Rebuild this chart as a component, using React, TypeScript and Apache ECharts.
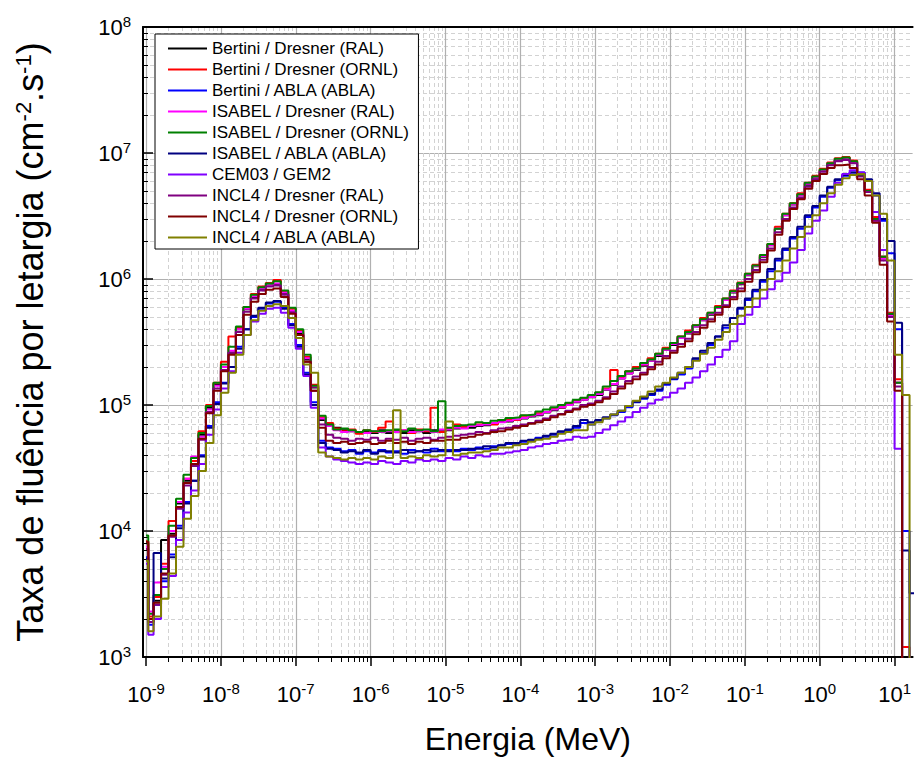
import React, { useEffect, useRef } from 'react';
import * as echarts from 'echarts';

const FONT = '"Liberation Sans", Arial, Helvetica, sans-serif';

// ---- Bin edges (MeV): a narrow first bin, then 10 logarithmic bins per decade ----
const FIRST_EDGES = [1e-9, 1.07e-9];
const EDGE_MANTISSAS = [1, 1.259, 1.585, 1.995, 2.512, 3.162, 3.981, 5.012, 6.31, 7.943];
const FULL_DECADES = [-8, -7, -6, -5, -4, -3, -2, -1, 0];
const LAST_EDGES = [10, 12.59, 15.85, 19.95];

// ---- Axis ticks ----
const X_MAJOR_TICKS = [1e-9, 1e-8, 1e-7, 1e-6, 1e-5, 1e-4, 1e-3, 1e-2, 1e-1, 1, 10];
const Y_MAJOR_TICKS = [1e3, 1e4, 1e5, 1e6, 1e7, 1e8];
const MINOR_MULTIPLIERS = [2, 3, 4, 5, 6, 7, 8, 9];
const X_MIN = 9.1e-10;
const X_MAX = 17.4;
const Y_MIN = 1e3;
const Y_MAX = 1e8;

// ---- Series (flux per lethargy, cm^-2 s^-1), one value per bin; 100 = no flux (below axis) ----
const SERIES_NAMES = [
  'Bertini / Dresner (RAL)',
  'Bertini / Dresner (ORNL)',
  'Bertini / ABLA (ABLA)',
  'ISABEL / Dresner (RAL)',
  'ISABEL / Dresner (ORNL)',
  'ISABEL / ABLA (ABLA)',
  'CEM03 / GEM2',
  'INCL4 / Dresner (RAL)',
  'INCL4 / Dresner (ORNL)',
  'INCL4 / ABLA (ABLA)',
];
const SERIES_COLORS = ['#000000', '#ff0000', '#0000ff', '#ff00ff', '#008000', '#000080', '#8000ff', '#800080', '#800000', '#808000'];

const BERTINI_DRESNER_RAL = [
  8.0e3, 2.0e3, 2.8e3, 8.5e3, 9.5e3, 1.65e4, 2.5e4, 3.3e4, 5.8e4, 9.5e4,
  1.45e5, 2.0e5, 2.6e5, 4.0e5, 5.75e5, 7.2e5, 8.3e5, 8.9e5, 9.1e5, 7.6e5,
  5.5e5, 3.7e5, 2.3e5, 1.38e5, 7.6e4, 6.9e4, 6.6e4, 6.3e4, 6.2e4, 6.0e4,
  6.2e4, 6.0e4, 6.3e4, 6.0e4, 6.2e4, 6.0e4, 6.3e4, 6.2e4, 6.0e4, 6.3e4,
  6.2e4, 6.3e4, 6.5e4, 6.6e4, 6.6e4, 6.8e4, 6.9e4, 7.1e4, 7.4e4, 7.4e4,
  7.6e4, 7.8e4, 8.1e4, 8.3e4, 8.7e4, 9.1e4, 9.5e4, 1.0e5, 1.05e5, 1.1e5,
  1.15e5, 1.2e5, 1.32e5, 1.45e5, 1.62e5, 1.78e5, 1.9e5, 2.05e5, 2.25e5, 2.45e5,
  2.75e5, 3.0e5, 3.4e5, 3.7e5, 4.2e5, 4.7e5, 5.2e5, 5.9e5, 6.8e5, 7.8e5,
  9.1e5, 1.07e6, 1.26e6, 1.5e6, 1.85e6, 2.5e6, 3.2e6, 3.9e6, 4.6e6, 5.6e6,
  6.4e6, 7.3e6, 8.1e6, 8.8e6, 9.1e6, 8.5e6, 6.6e6, 5.0e6, 3.0e6, 1.5e6,
  5.2e5, 1.5e5, 100, 100,
];
const BERTINI_DRESNER_ORNL = [
  8.3e3, 2.1e3, 3.0e3, 5.5e3, 1.2e4, 1.7e4, 2.6e4, 3.6e4, 6.2e4, 1.0e5,
  1.5e5, 2.2e5, 3.5e5, 4.1e5, 6.0e5, 7.6e5, 8.7e5, 9.3e5, 9.8e5, 8.0e5,
  5.8e5, 3.9e5, 2.4e5, 1.45e5, 8.0e4, 7.2e4, 6.5e4, 6.2e4, 6.4e4, 5.9e4,
  6.3e4, 6.1e4, 6.6e4, 7.4e4, 6.1e4, 6.3e4, 6.0e4, 6.4e4, 6.2e4, 9.5e4,
  6.1e4, 6.5e4, 7.0e4, 6.7e4, 6.9e4, 7.0e4, 7.2e4, 7.0e4, 7.6e4, 7.7e4,
  7.6e4, 8.2e4, 8.3e4, 8.6e4, 8.8e4, 9.4e4, 9.6e4, 1.03e5, 1.08e5, 1.12e5,
  1.18e5, 1.25e5, 1.35e5, 1.9e5, 1.65e5, 1.85e5, 2.0e5, 2.1e5, 2.35e5, 2.55e5,
  2.85e5, 3.1e5, 3.5e5, 3.9e5, 4.3e5, 4.9e5, 5.4e5, 6.1e5, 7.0e5, 8.1e5,
  9.4e5, 1.1e6, 1.3e6, 1.55e6, 1.9e6, 2.6e6, 3.3e6, 4.0e6, 4.8e6, 5.8e6,
  6.6e6, 7.5e6, 8.4e6, 9.1e6, 9.3e6, 8.7e6, 6.8e6, 5.1e6, 3.1e6, 1.5e6,
  5.4e5, 1.6e5, 1.2e3, 100,
];
const BERTINI_ABLA = [
  6.2e3, 1.8e3, 2.6e3, 4.0e3, 6.5e3, 1.1e4, 1.7e4, 2.5e4, 4.0e4, 6.8e4,
  1.05e5, 1.5e5, 2.0e5, 2.9e5, 4.0e5, 5.0e5, 5.8e5, 6.4e5, 6.6e5, 5.9e5,
  4.4e5, 3.0e5, 1.8e5, 1.05e5, 5.2e4, 4.6e4, 4.5e4, 4.3e4, 4.4e4, 4.1e4,
  4.3e4, 4.2e4, 4.4e4, 4.2e4, 4.3e4, 4.1e4, 4.4e4, 4.3e4, 4.2e4, 4.5e4,
  4.3e4, 4.4e4, 4.3e4, 4.5e4, 4.4e4, 4.6e4, 4.5e4, 4.7e4, 4.8e4, 4.9e4,
  4.9e4, 5.1e4, 5.2e4, 5.5e4, 5.6e4, 5.8e4, 6.1e4, 6.3e4, 6.6e4, 7.2e4,
  7.0e4, 7.5e4, 7.8e4, 8.3e4, 8.8e4, 9.6e4, 1.05e5, 1.12e5, 1.2e5, 1.3e5,
  1.45e5, 1.6e5, 1.75e5, 1.95e5, 2.3e5, 2.6e5, 3.0e5, 3.5e5, 4.1e5, 4.9e5,
  5.8e5, 6.8e5, 8.0e5, 9.5e5, 1.15e6, 1.4e6, 1.7e6, 2.1e6, 2.5e6, 3.1e6,
  3.7e6, 4.5e6, 5.3e6, 6.1e6, 6.6e6, 7.0e6, 7.0e6, 6.0e6, 4.6e6, 2.9e6,
  1.6e6, 4.0e5, 1.0e4, 100,
];
const ISABEL_DRESNER_RAL = [
  7.5e3, 2.3e3, 3.9e3, 5.2e3, 1.0e4, 1.7e4, 2.6e4, 3.9e4, 5.6e4, 9.2e4,
  1.42e5, 2.0e5, 2.7e5, 4.0e5, 5.8e5, 7.3e5, 8.4e5, 8.9e5, 9.2e5, 7.8e5,
  5.6e5, 3.8e5, 2.35e5, 1.4e5, 7.8e4, 6.8e4, 6.3e4, 6.1e4, 6.2e4, 6.1e4,
  6.0e4, 6.2e4, 6.1e4, 6.2e4, 6.1e4, 6.3e4, 6.1e4, 6.2e4, 6.3e4, 6.1e4,
  6.4e4, 6.4e4, 6.6e4, 6.5e4, 6.8e4, 6.9e4, 7.0e4, 7.2e4, 7.3e4, 7.5e4,
  7.7e4, 7.9e4, 8.2e4, 8.4e4, 8.8e4, 9.2e4, 9.6e4, 1.0e5, 1.06e5, 1.1e5,
  1.16e5, 1.22e5, 1.33e5, 1.47e5, 1.62e5, 1.78e5, 1.92e5, 2.1e5, 2.25e5, 2.5e5,
  2.75e5, 3.05e5, 3.4e5, 3.75e5, 4.2e5, 4.7e5, 5.3e5, 5.9e5, 6.8e5, 7.9e5,
  9.2e5, 1.08e6, 1.27e6, 1.52e6, 1.85e6, 2.5e6, 3.2e6, 3.9e6, 4.6e6, 5.7e6,
  6.4e6, 7.3e6, 8.2e6, 8.9e6, 9.0e6, 8.4e6, 6.6e6, 4.9e6, 2.9e6, 1.45e6,
  5.1e5, 1.5e5, 100, 100,
];
const ISABEL_DRESNER_ORNL = [
  9.2e3, 2.2e3, 3.1e3, 5.0e3, 1.1e4, 1.8e4, 2.8e4, 3.8e4, 6.0e4, 9.8e4,
  1.5e5, 2.1e5, 2.9e5, 4.2e5, 6.0e5, 7.5e5, 8.6e5, 9.2e5, 9.6e5, 8.1e5,
  5.9e5, 4.0e5, 2.5e5, 1.42e5, 8.2e4, 7.0e4, 6.4e4, 6.5e4, 6.3e4, 6.1e4,
  6.3e4, 6.2e4, 6.2e4, 6.3e4, 6.4e4, 6.2e4, 6.5e4, 6.3e4, 6.4e4, 6.2e4,
  1.07e5, 6.6e4, 6.8e4, 6.9e4, 7.0e4, 7.3e4, 7.2e4, 7.5e4, 7.6e4, 7.9e4,
  8.0e4, 8.3e4, 8.4e4, 8.9e4, 9.2e4, 9.6e4, 1.0e5, 1.04e5, 1.1e5, 1.14e5,
  1.2e5, 1.26e5, 1.4e5, 1.55e5, 1.7e5, 1.85e5, 1.95e5, 2.15e5, 2.3e5, 2.55e5,
  2.8e5, 3.1e5, 3.5e5, 3.8e5, 4.3e5, 4.8e5, 5.4e5, 6.0e5, 7.0e5, 8.0e5,
  9.3e5, 1.1e6, 1.28e6, 1.55e6, 1.9e6, 2.5e6, 3.3e6, 4.0e6, 4.7e6, 5.8e6,
  6.5e6, 7.4e6, 8.3e6, 9.0e6, 9.2e6, 8.6e6, 6.7e6, 5.0e6, 3.0e6, 1.5e6,
  5.3e5, 1.5e5, 100, 100,
];
const ISABEL_ABLA = [
  6.0e3, 1.9e3, 6.7e3, 4.2e3, 6.2e3, 1.05e4, 1.65e4, 2.5e4, 3.9e4, 6.6e4,
  1.02e5, 1.48e5, 2.0e5, 2.8e5, 4.0e5, 5.1e5, 5.9e5, 6.5e5, 6.7e5, 5.8e5,
  4.3e5, 2.9e5, 1.75e5, 1.0e5, 5.0e4, 4.5e4, 4.4e4, 4.2e4, 4.3e4, 4.2e4,
  4.4e4, 4.1e4, 4.3e4, 4.3e4, 4.2e4, 4.4e4, 4.2e4, 4.3e4, 4.4e4, 4.3e4,
  4.4e4, 4.3e4, 4.4e4, 4.4e4, 4.5e4, 4.5e4, 4.7e4, 4.6e4, 4.8e4, 5.0e4,
  5.0e4, 5.2e4, 5.3e4, 5.4e4, 5.7e4, 5.9e4, 6.2e4, 6.4e4, 6.8e4, 7.6e4,
  7.3e4, 7.6e4, 8.0e4, 8.4e4, 9.0e4, 9.8e4, 1.06e5, 1.14e5, 1.22e5, 1.33e5,
  1.48e5, 1.62e5, 1.8e5, 2.0e5, 2.35e5, 2.7e5, 3.1e5, 3.5e5, 4.3e5, 4.9e5,
  5.9e5, 7.0e5, 8.2e5, 9.8e5, 1.2e6, 1.45e6, 1.75e6, 2.15e6, 2.6e6, 3.2e6,
  3.8e6, 4.6e6, 5.4e6, 6.2e6, 6.7e6, 7.0e6, 6.9e6, 6.2e6, 4.8e6, 3.0e6,
  2.0e6, 4.5e5, 7.0e3, 3.2e3,
];
const CEM03_GEM2 = [
  5.5e3, 1.5e3, 2.0e3, 3.6e3, 4.4e3, 8.5e3, 1.4e4, 2.1e4, 3.4e4, 5.8e4,
  9.2e4, 1.35e5, 1.85e5, 2.6e5, 3.6e5, 4.6e5, 5.3e5, 5.8e5, 5.9e5, 5.4e5,
  4.1e5, 2.8e5, 1.7e5, 9.5e4, 4.6e4, 3.9e4, 3.7e4, 3.6e4, 3.5e4, 3.4e4,
  3.5e4, 3.4e4, 3.6e4, 3.5e4, 3.4e4, 3.6e4, 3.5e4, 3.7e4, 3.6e4, 3.7e4,
  3.6e4, 3.8e4, 3.7e4, 3.9e4, 3.8e4, 4.0e4, 3.9e4, 4.1e4, 4.1e4, 4.2e4,
  4.3e4, 4.4e4, 4.6e4, 4.7e4, 4.9e4, 5.0e4, 5.2e4, 5.3e4, 5.6e4, 5.5e4,
  5.6e4, 6.0e4, 6.4e4, 6.9e4, 7.4e4, 8.0e4, 8.8e4, 9.5e4, 1.03e5, 1.1e5,
  1.15e5, 1.25e5, 1.35e5, 1.5e5, 1.65e5, 1.85e5, 2.1e5, 2.4e5, 2.75e5, 3.2e5,
  4.4e5, 5.2e5, 6.0e5, 7.0e5, 8.3e5, 9.6e5, 1.12e6, 1.35e6, 1.7e6, 2.3e6,
  2.9e6, 3.5e6, 4.5e6, 5.8e6, 6.8e6, 7.3e6, 7.0e6, 6.0e6, 3.4e6, 1.7e6,
  5.0e5, 4.5e4, 100, 100,
];
const INCL4_DRESNER_RAL = [
  7.2e3, 1.9e3, 2.6e3, 4.5e3, 9.0e3, 1.5e4, 2.3e4, 3.3e4, 5.3e4, 8.8e4,
  1.35e5, 1.9e5, 2.6e5, 3.8e5, 5.5e5, 7.0e5, 8.1e5, 8.7e5, 8.9e5, 7.5e5,
  5.4e5, 3.6e5, 2.2e5, 1.3e5, 7.0e4, 5.8e4, 5.5e4, 5.4e4, 5.2e4, 5.4e4,
  5.3e4, 5.5e4, 5.2e4, 5.4e4, 5.3e4, 5.5e4, 5.2e4, 5.4e4, 5.5e4, 5.3e4,
  5.5e4, 5.6e4, 5.7e4, 5.8e4, 5.9e4, 6.1e4, 6.0e4, 6.3e4, 6.5e4, 6.6e4,
  6.8e4, 7.0e4, 7.2e4, 7.5e4, 7.8e4, 8.2e4, 8.5e4, 9.0e4, 9.4e4, 1.0e5,
  1.03e5, 1.08e5, 1.15e5, 1.28e5, 1.4e5, 1.55e5, 1.68e5, 1.8e5, 2.0e5, 2.2e5,
  2.45e5, 2.7e5, 3.05e5, 3.35e5, 3.8e5, 4.3e5, 4.8e5, 5.4e5, 6.2e5, 7.2e5,
  8.4e5, 1.0e6, 1.18e6, 1.42e6, 1.75e6, 2.35e6, 3.0e6, 3.7e6, 4.4e6, 5.4e6,
  6.2e6, 7.1e6, 8.0e6, 8.6e6, 8.8e6, 8.3e6, 6.5e6, 4.9e6, 2.9e6, 1.4e6,
  5.0e5, 1.4e5, 100, 100,
];
const INCL4_DRESNER_ORNL = [
  8.2e3, 2.0e3, 2.7e3, 4.6e3, 9.2e3, 1.55e4, 2.4e4, 3.4e4, 5.4e4, 8.6e4,
  1.3e5, 1.85e5, 2.5e5, 3.6e5, 5.2e5, 6.6e5, 7.6e5, 8.2e5, 8.4e5, 7.2e5,
  5.3e5, 3.6e5, 2.2e5, 1.3e5, 6.6e4, 5.2e4, 5.0e4, 5.1e4, 4.9e4, 5.0e4,
  5.1e4, 4.9e4, 5.0e4, 5.2e4, 5.0e4, 5.1e4, 4.9e4, 5.1e4, 5.0e4, 5.2e4,
  5.2e4, 5.3e4, 5.3e4, 5.5e4, 5.6e4, 5.8e4, 5.9e4, 6.1e4, 6.2e4, 6.4e4,
  6.6e4, 6.8e4, 7.1e4, 7.3e4, 7.6e4, 8.0e4, 8.4e4, 8.8e4, 9.2e4, 9.7e4,
  1.0e5, 1.05e5, 1.12e5, 1.22e5, 1.35e5, 1.48e5, 1.6e5, 1.75e5, 1.92e5, 2.1e5,
  2.35e5, 2.6e5, 2.9e5, 3.2e5, 3.65e5, 4.1e5, 4.6e5, 5.2e5, 6.0e5, 6.9e5,
  8.0e5, 9.5e5, 1.13e6, 1.36e6, 1.68e6, 2.25e6, 2.9e6, 3.6e6, 4.3e6, 5.2e6,
  6.0e6, 6.8e6, 7.6e6, 8.0e6, 8.1e6, 7.6e6, 6.2e6, 4.6e6, 2.8e6, 1.3e6,
  4.6e5, 1.3e5, 100, 100,
];
const INCL4_ABLA = [
  5.8e3, 1.6e3, 2.1e3, 2.9e3, 4.6e3, 7.5e3, 1.25e4, 1.9e4, 3.0e4, 5.0e4,
  8.3e4, 1.25e5, 1.8e5, 2.5e5, 3.6e5, 4.7e5, 5.6e5, 6.1e5, 6.3e5, 6.1e5,
  4.9e5, 3.4e5, 2.1e5, 1.8e5, 4.2e4, 3.9e4, 3.8e4, 3.7e4, 3.8e4, 3.7e4,
  3.8e4, 3.7e4, 3.9e4, 3.8e4, 9.1e4, 3.8e4, 3.9e4, 3.8e4, 4.0e4, 3.9e4,
  4.0e4, 7.4e4, 4.0e4, 4.1e4, 4.2e4, 4.2e4, 4.3e4, 4.4e4, 4.6e4, 4.6e4,
  4.8e4, 4.9e4, 5.1e4, 5.3e4, 5.4e4, 5.6e4, 5.9e4, 6.1e4, 6.3e4, 6.3e4,
  7.0e4, 7.3e4, 7.8e4, 8.4e4, 9.0e4, 9.8e4, 1.08e5, 1.17e5, 1.28e5, 1.4e5,
  1.5e5, 1.65e5, 1.8e5, 2.0e5, 2.25e5, 2.55e5, 2.85e5, 3.3e5, 3.8e5, 4.4e5,
  5.1e5, 6.0e5, 7.0e5, 8.2e5, 1.0e6, 1.15e6, 1.4e6, 1.75e6, 2.15e6, 2.6e6,
  3.2e6, 4.0e6, 4.8e6, 5.6e6, 6.3e6, 6.7e6, 6.8e6, 6.0e6, 4.6e6, 3.3e6,
  1.4e6, 2.5e5, 1.2e5, 100,
];

const SERIES_VALUES = [
  BERTINI_DRESNER_RAL,
  BERTINI_DRESNER_ORNL,
  BERTINI_ABLA,
  ISABEL_DRESNER_RAL,
  ISABEL_DRESNER_ORNL,
  ISABEL_ABLA,
  CEM03_GEM2,
  INCL4_DRESNER_RAL,
  INCL4_DRESNER_ORNL,
  INCL4_ABLA,
];

const BIN_EDGES: number[] = [
  ...FIRST_EDGES,
  ...EDGE_MANTISSAS.slice(1).map((m) => m * 1e-9),
  ...FULL_DECADES.flatMap((d) => EDGE_MANTISSAS.map((m) => m * Math.pow(10, d))),
  ...LAST_EDGES,
];

const X_MINOR_TICKS = X_MAJOR_TICKS.flatMap((t) => MINOR_MULTIPLIERS.map((k) => k * t));
const Y_MINOR_TICKS = Y_MAJOR_TICKS.slice(0, -1).flatMap((t) => MINOR_MULTIPLIERS.map((k) => k * t));

const labelRich = {
  b: { fontSize: 22, lineHeight: 26, fontFamily: FONT, color: '#000' },
  s: { fontSize: 15, lineHeight: 11, verticalAlign: 'top', fontFamily: FONT, color: '#000' },
};
const powerLabel = (v: number) => `{b|10}{s|${Math.round(Math.log10(v))}}`;

const MAJOR_GRID = { color: '#b0b0b0', width: 1.2 };
const MINOR_GRID = { color: '#d2d2d2', width: 1, type: [4, 3] as number[] };

export default function App() {
  const ref = useRef<HTMLDivElement>(null);

  useEffect(() => {
    document.body.style.margin = '0';
    if (!ref.current) return;
    const chart = echarts.init(ref.current, undefined, { renderer: 'svg' });

    const series = SERIES_VALUES.map((vals, si) => ({
      name: SERIES_NAMES[si],
      type: 'line',
      step: 'end',
      xAxisIndex: 0,
      yAxisIndex: 0,
      symbol: 'none',
      showSymbol: false,
      clip: true,
      lineStyle: { color: SERIES_COLORS[si], width: 2 },
      itemStyle: { color: SERIES_COLORS[si] },
      emphasis: { disabled: true },
      data: [
        ...vals.map((v, i) => [BIN_EDGES[i], v]),
        [BIN_EDGES[vals.length], vals[vals.length - 1]],
      ],
    }));

    const option: any = {
      animation: false,
      backgroundColor: '#ffffff',
      textStyle: { fontFamily: FONT },
      color: SERIES_COLORS,
      grid: { left: 143, right: 0, top: 27, bottom: 103, containLabel: false },
      legend: {
        orient: 'vertical',
        left: 155,
        top: 34,
        padding: [6, 9, 3, 13],
        itemGap: 4,
        itemWidth: 39,
        itemHeight: 2,
        icon: 'rect',
        backgroundColor: '#ffffff',
        borderColor: '#000000',
        borderWidth: 1,
        textStyle: { fontSize: 17, lineHeight: 17, color: '#000', fontFamily: FONT },
        data: SERIES_NAMES,
      },
      xAxis: [
        {
          type: 'log',
          logBase: 10,
          min: X_MIN,
          max: X_MAX,
          position: 'bottom',
          axisLine: { show: true, onZero: false, lineStyle: { color: '#000', width: 2 } },
          axisTick: { show: true, inside: false, length: 9, customValues: X_MAJOR_TICKS, lineStyle: { color: '#000', width: 1.5 } },
          axisLabel: { show: true, customValues: X_MAJOR_TICKS, margin: 24, formatter: powerLabel, rich: labelRich },
          splitLine: { show: true, lineStyle: MAJOR_GRID },
          name: 'Energia (MeV)',
          nameLocation: 'middle',
          nameGap: 66,
          nameTextStyle: { fontSize: 32, color: '#000', fontFamily: FONT },
        },
        {
          type: 'log',
          logBase: 10,
          min: X_MIN,
          max: X_MAX,
          position: 'bottom',
          axisLine: { show: false },
          axisLabel: { show: false },
          axisTick: { show: true, inside: false, length: 5, customValues: X_MINOR_TICKS, lineStyle: { color: '#000', width: 1 } },
          splitLine: { show: true, lineStyle: MINOR_GRID },
        },
        {
          type: 'log',
          logBase: 10,
          min: X_MIN,
          max: X_MAX,
          position: 'top',
          axisLine: { show: true, lineStyle: { color: '#000', width: 2 } },
          axisLabel: { show: false },
          axisTick: { show: false },
          splitLine: { show: false },
        },
      ],
      yAxis: [
        {
          type: 'log',
          logBase: 10,
          min: Y_MIN,
          max: Y_MAX,
          position: 'left',
          axisLine: { show: true, onZero: false, lineStyle: { color: '#000', width: 2 } },
          axisTick: { show: true, inside: true, length: 10, customValues: Y_MAJOR_TICKS, lineStyle: { color: '#000', width: 1.5 } },
          axisLabel: { show: true, customValues: Y_MAJOR_TICKS, margin: 12, formatter: powerLabel, rich: labelRich },
          splitLine: { show: true, lineStyle: MAJOR_GRID },
          name: 'Taxa de fluência por letargia (cm{s|-2}.s{s|-1})',
          nameLocation: 'middle',
          nameGap: 95,
          nameRotate: 90,
          nameTextStyle: {
            fontSize: 36,
            lineHeight: 36,
            color: '#000',
            fontFamily: FONT,
            rich: { s: { fontSize: 22, lineHeight: 14, verticalAlign: 'top', color: '#000', fontFamily: FONT } },
          },
        },
        {
          type: 'log',
          logBase: 10,
          min: Y_MIN,
          max: Y_MAX,
          position: 'left',
          axisLine: { show: false },
          axisLabel: { show: false },
          axisTick: { show: true, inside: true, length: 5, customValues: Y_MINOR_TICKS, lineStyle: { color: '#000', width: 1 } },
          splitLine: { show: true, lineStyle: MINOR_GRID },
        },
      ],
      series,
    };

    chart.setOption(option);
    return () => chart.dispose();
  }, []);

  return <div ref={ref} style={{ width: 914, height: 760 }} />;
}
